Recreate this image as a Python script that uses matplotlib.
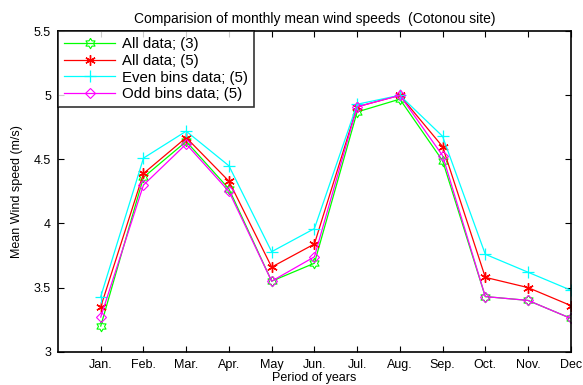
import matplotlib
matplotlib.use("Agg")
import matplotlib.pyplot as plt
import numpy as np

months = ["Jan.", "Feb.", "Mar.", "Apr.", "May", "Jun.", "Jul.", "Aug.", "Sep.", "Oct.", "Nov.", "Dec"]
all3 = [3.20, 4.36, 4.64, 4.27, 3.55, 3.69, 4.87, 4.97, 4.49, 3.43, 3.40, 3.26]
all5 = [3.35, 4.39, 4.67, 4.33, 3.66, 3.84, 4.91, 5.00, 4.60, 3.58, 3.50, 3.36]
even5 = [3.43, 4.51, 4.72, 4.45, 3.78, 3.96, 4.93, 5.00, 4.68, 3.76, 3.62, 3.48]
odd5 = [3.27, 4.30, 4.62, 4.25, 3.55, 3.74, 4.91, 5.00, 4.53, 3.43, 3.40, 3.26]
yticks = [3, 3.5, 4, 4.5, 5, 5.5]
ytick_labels = ["3", "3.5", "4", "4.5", "5", "5.5"]

plt.rcParams['font.family'] = ['Liberation Sans', 'DejaVu Sans']

# six-pointed star (hexagram) marker outline
ang = np.deg2rad(90 + np.arange(12) * 30)
rad = np.where(np.arange(12) % 2 == 0, 1.0, 0.58)
hexagram = list(zip(rad * np.cos(ang), rad * np.sin(ang)))
hexagram.append(hexagram[0])

fig = plt.figure(figsize=(5.83, 3.85), dpi=100)
ax = fig.add_axes([0.0995, 0.0865, 0.8795, 0.8325])
x = list(range(1, 13))
lw = 0.9
ax.plot(x, all3, color='#00ff00', lw=lw, marker=hexagram, ms=7.5, mfc='none', mec='#00ff00', mew=0.8, label='All data; (3)')
ax.plot(x, all5, color='#ff0000', lw=lw, marker=(6, 2, 0), ms=7.5, mec='#ff0000', mew=1.0, label='All data; (5)')
ax.plot(x, even5, color='#00ffff', lw=lw, marker='+', ms=9, mew=0.9, label='Even bins data; (5)')
ax.plot(x, odd5, color='#ff00ff', lw=lw, marker='D', ms=5.5, mfc='none', mec='#ff00ff', mew=0.8, label='Odd bins data; (5)')

ax.set_xlim(0, 12)
ax.set_ylim(3, 5.5)
ax.set_xticks(x)
ax.set_xticklabels(months)
ax.set_yticks(yticks)
ax.set_yticklabels(ytick_labels)
ax.tick_params(direction='in', top=True, right=True, length=4, width=0.8, labelsize=9, pad=5)
for s in ax.spines.values():
    s.set_linewidth(1.2)
ax.set_title('Comparision of monthly mean wind speeds  (Cotonou site)', fontsize=10, pad=6)
ax.set_xlabel('Period of years', fontsize=9, labelpad=1)
ax.set_ylabel('Mean Wind speed (m/s)', fontsize=9, labelpad=8)

leg = ax.legend(loc='upper left', fontsize=10.8, frameon=True, fancybox=False, borderaxespad=0,
                handlelength=3.4, borderpad=0.4, labelspacing=0.18, handletextpad=0.45)
leg.get_frame().set_edgecolor('black')
leg.get_frame().set_linewidth(1.2)

fig.savefig('out.png', dpi=100)
